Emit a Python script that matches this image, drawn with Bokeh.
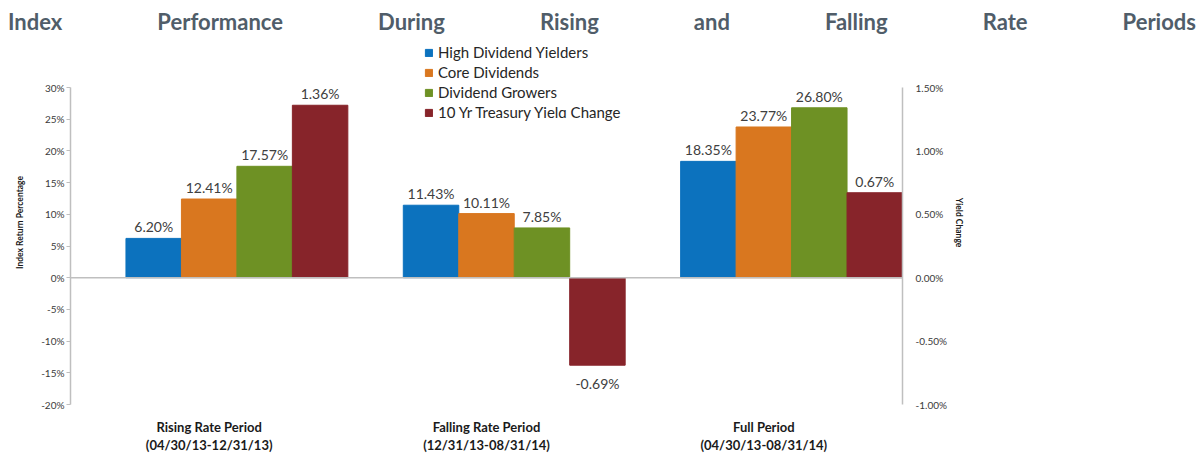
from bokeh.plotting import figure
from bokeh.models import (ColumnDataSource, Range1d, FactorRange, LinearAxis, FixedTicker,
                          CustomJSTickFormatter, Span, Legend, LegendItem, Div)
from bokeh.transform import dodge
from bokeh.layouts import column
from bokeh.embed import file_html
from bokeh.resources import INLINE
from bokeh.core.properties import value

# ---------------- data ----------------
title_text = "Index Performance During Rising and Falling Rate Periods"
periods = ["Rising Rate Period", "Falling Rate Period", "Full Period"]
date_spans = ["(04/30/13-12/31/13)", "(12/31/13-08/31/14)", "(04/30/13-08/31/14)"]
series_names = ["High Dividend Yielders", "Core Dividends", "Dividend Growers",
                "10 Yr Treasury Yielɑ Change"]
high_dividend = [6.20, 11.43, 18.35]
core_dividends = [12.41, 10.11, 23.77]
dividend_growers = [17.57, 7.85, 26.80]
treasury_change = [1.36, -0.69, 0.67]
left_ticks = [-20, -15, -10, -5, 0, 5, 10, 15, 20, 25, 30]
right_ticks = [-1.0, -0.5, 0.0, 0.5, 1.0, 1.5]
left_bounds = (-20, 30)
right_bounds = (-1.0, 1.5)

# ---------------- style ----------------
FONT = "Lato"
colors = ["#0c72be", "#d9771f", "#6e9124", "#87242a"]
axis_gray = "#bfbfbf"
label_color = "#404040"
tick_color = "#3a3a3a"

# frame geometry (px): axis 30% at y=87, -20% at y=404; frame top extended to y=40
DIV_H = 36
FIG_H = 455 - DIV_H
FRAME_TOP = 40
AX_TOP, AX_BOT = 87, 404
px_per_unit = (AX_BOT - AX_TOP) / (left_bounds[1] - left_bounds[0])
left_top = left_bounds[1] + (AX_TOP - FRAME_TOP) / px_per_unit
ratio = (left_bounds[1] - left_bounds[0]) / (right_bounds[1] - right_bounds[0])
right_top = left_top / ratio

cats = [f"{p}\n{d}" for p, d in zip(periods, date_spans)]

src = ColumnDataSource(dict(
    cat=cats,
    high=high_dividend, core=core_dividends, grow=dividend_growers,
    high_lbl=[f"{v:.2f}%" for v in high_dividend],
    core_lbl=[f"{v:.2f}%" for v in core_dividends],
    grow_lbl=[f"{v:.2f}%" for v in dividend_growers],
))
red_src = ColumnDataSource(dict(cat=cats, val=treasury_change))
pos_idx = [i for i, v in enumerate(treasury_change) if v >= 0]
neg_idx = [i for i, v in enumerate(treasury_change) if v < 0]
red_pos = ColumnDataSource(dict(cat=[cats[i] for i in pos_idx],
                                val=[treasury_change[i] for i in pos_idx],
                                lbl=[f"{treasury_change[i]:.2f}%" for i in pos_idx]))
red_neg = ColumnDataSource(dict(cat=[cats[i] for i in neg_idx],
                                val=[treasury_change[i] for i in neg_idx],
                                lbl=[f"{treasury_change[i]:.2f}%" for i in neg_idx]))

title = Div(
    text=(f'<div style="margin-left:8px;width:1188px;text-align:justify;text-align-last:justify;'
          f'font-family:Lato;font-weight:bold;font-size:22px;line-height:26px;'
          f'color:#505d69;padding-top:9px;white-space:normal;">{title_text}</div>'),
    width=1204, height=DIV_H, margin=(0, 0, 0, 0))

p = figure(width=1204, height=FIG_H,
           x_range=FactorRange(factors=cats, range_padding=0),
           y_range=Range1d(left_bounds[0], left_top),
           output_backend="svg", toolbar_location=None,
           min_border_left=70, min_border_right=302,
           min_border_top=FRAME_TOP - DIV_H, min_border_bottom=FIG_H - (AX_BOT - DIV_H))
p.extra_y_ranges = {"yield": Range1d(right_bounds[0], right_top)}
p.outline_line_color = None
p.xgrid.visible = False
p.ygrid.visible = False
p.background_fill_color = "white"

# bars
offsets = [-0.2, 0.0, 0.2, 0.4]
renderers = []
for key, off, col in zip(["high", "core", "grow"], offsets[:3], colors[:3]):
    r = p.vbar(x=dodge("cat", off, range=p.x_range), top=key, bottom=0, width=0.2,
               source=src, fill_color=col, line_color=col)
    renderers.append(r)
    p.text(x=dodge("cat", off, range=p.x_range), y=key, text=key + "_lbl", source=src,
           text_align="center", text_baseline="bottom", y_offset=-3,
           text_font=value(FONT), text_font_size="14px", text_color=label_color)

r_red = p.vbar(x=dodge("cat", offsets[3], range=p.x_range), top="val", bottom=0, width=0.2,
               source=red_src, fill_color=colors[3], line_color=colors[3],
               y_range_name="yield")
renderers.append(r_red)
p.text(x=dodge("cat", offsets[3], range=p.x_range), y="val", text="lbl", source=red_pos,
       y_range_name="yield", text_align="center", text_baseline="bottom", y_offset=-3,
       text_font=value(FONT), text_font_size="14px", text_color=label_color)
p.text(x=dodge("cat", offsets[3], range=p.x_range), y="val", text="lbl", source=red_neg,
       y_range_name="yield", text_align="center", text_baseline="top", y_offset=10,
       text_font=value(FONT), text_font_size="14px", text_color=label_color)

# zero line
p.add_layout(Span(location=0, dimension="width", line_color=axis_gray, line_width=1.5))

# x axis (category labels)
xa = p.xaxis[0]
xa.axis_line_color = None
xa.major_tick_line_color = None
xa.minor_tick_line_color = None
xa.major_label_standoff = 8
xa.major_label_text_font = FONT
xa.major_label_text_font_size = "13px"
xa.major_label_text_font_style = "bold"
xa.major_label_text_line_height = 1.15
xa.major_label_text_color = "#1a1a1a"

# left axis
ya = p.yaxis[0]
ya.bounds = left_bounds
ya.ticker = FixedTicker(ticks=left_ticks)
ya.formatter = CustomJSTickFormatter(code="return tick + '%';")
ya.axis_label = "Index Return Percentage"
ya.axis_label_text_font = FONT
ya.axis_label_text_font_size = "8.5px"
ya.axis_label_text_font_style = "bold"
ya.axis_label_text_color = "#1a1a1a"
ya.axis_label_standoff = 13
ya.major_label_text_font = FONT
ya.major_label_text_font_size = "10px"
ya.major_label_text_color = tick_color
ya.major_label_standoff = 2
ya.major_tick_out = 4
ya.major_tick_in = 0
ya.major_tick_line_color = axis_gray
ya.minor_tick_line_color = None
ya.axis_line_color = axis_gray
ya.axis_line_width = 1.5

# right axis
ra = LinearAxis(y_range_name="yield", ticker=FixedTicker(ticks=right_ticks),
                formatter=CustomJSTickFormatter(code="return tick.toFixed(2) + '%';"),
                axis_label="Yield Change", bounds=right_bounds)
ra.axis_label_text_font = FONT
ra.axis_label_text_font_size = "8.5px"
ra.axis_label_text_font_style = "bold"
ra.axis_label_text_color = "#1a1a1a"
ra.axis_label_standoff = 4
ra.major_label_text_font = FONT
ra.major_label_text_font_size = "10px"
ra.major_label_text_color = tick_color
ra.major_label_standoff = 7
ra.major_tick_line_color = None
ra.minor_tick_line_color = None
ra.axis_line_color = axis_gray
ra.axis_line_width = 1.5
p.add_layout(ra, "right")

# legend
legend = Legend(items=[LegendItem(label=n, renderers=[r]) for n, r in zip(series_names, renderers)],
                location=(354, 282), orientation="vertical",
                padding=0, margin=0, spacing=0, label_standoff=5,
                glyph_width=9, glyph_height=9, label_height=20,
                border_line_color=None, background_fill_alpha=0,
                label_text_font=FONT, label_text_font_size="15px",
                label_text_color="#262626")
p.add_layout(legend, "center")

layout = column(title, p, spacing=0, margin=(0, 0, 0, 0))
open("out.html", "w").write(file_html(layout, INLINE))
